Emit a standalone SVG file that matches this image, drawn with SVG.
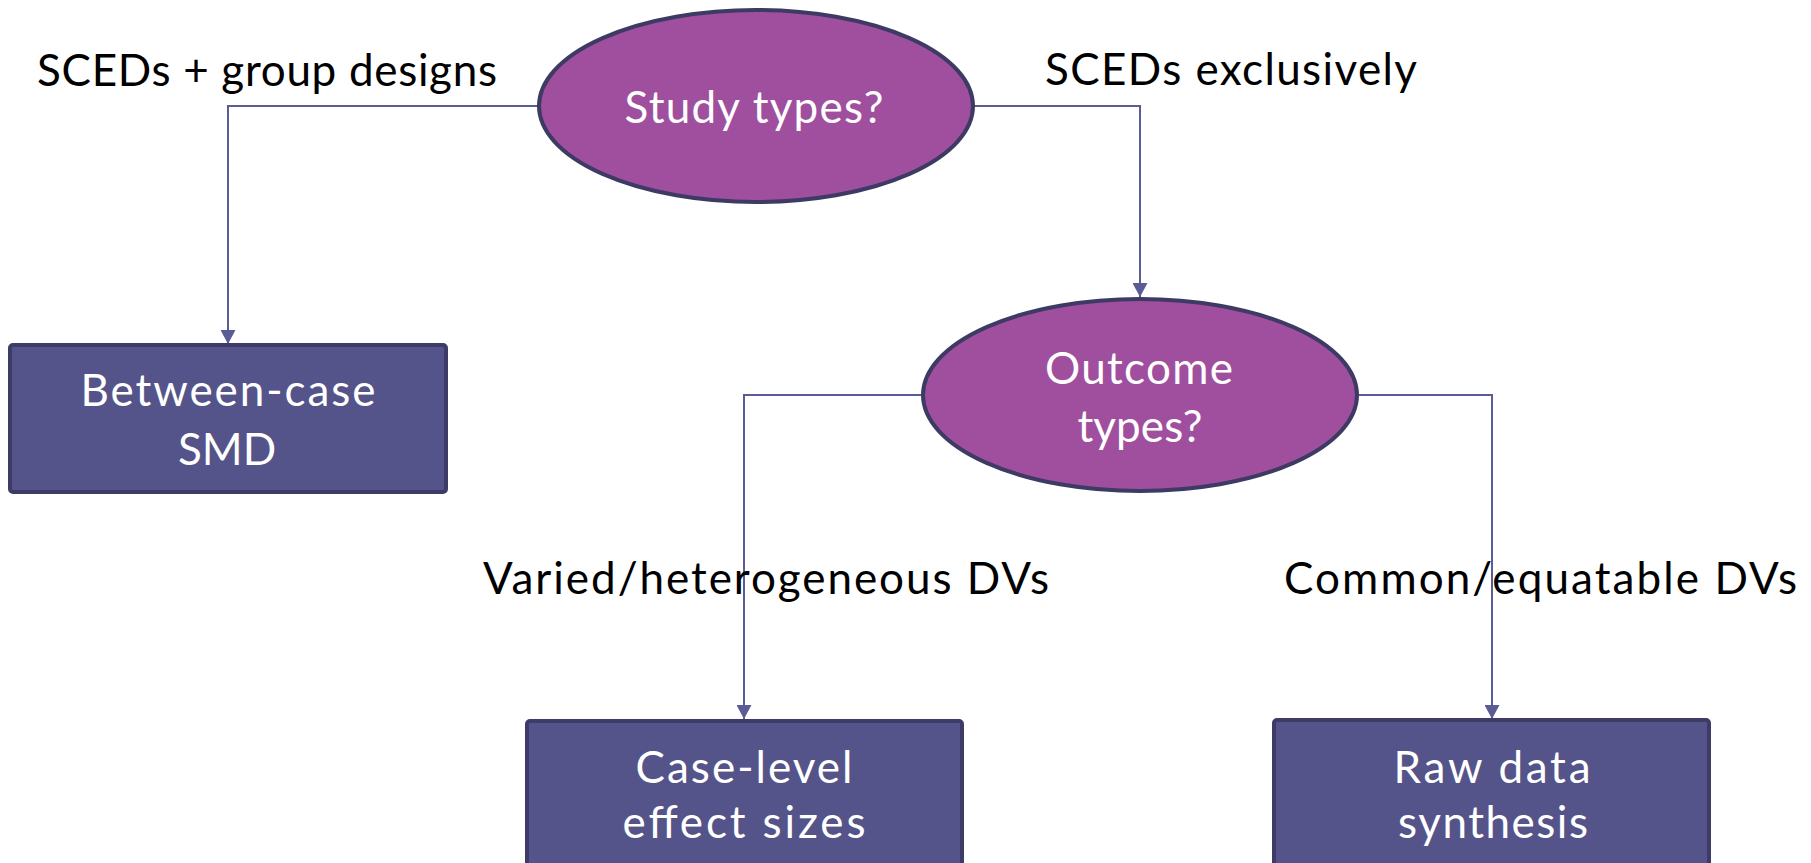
<svg xmlns="http://www.w3.org/2000/svg" width="1811" height="863" viewBox="0 0 1811 863">
<style>
  .dec { fill: #a04f9f; stroke: #3d3a64; stroke-width: 4; }
  .box { fill: #54548a; stroke: #3e3b66; stroke-width: 4; }
  .lbl { font-family: Lato, "Liberation Sans", sans-serif; font-size: 44px; fill: #ffffff; text-anchor: middle; }
  .edge { font-family: Lato, "Liberation Sans", sans-serif; font-size: 44px; fill: #000000; }
  .conn { fill: none; stroke: #5b5b96; stroke-width: 2; }
</style>
<defs>
  <marker id="arrow" markerUnits="userSpaceOnUse" markerWidth="15" markerHeight="15" refX="14" refY="7.5" orient="auto">
    <path d="M0,0 L14,7.5 L0,15 z" fill="#5b5b96"/>
  </marker>
</defs>
<rect width="1811" height="863" fill="#ffffff"/>
<g id="connectors">
  <path class="conn" d="M540,106 H228 V344" marker-end="url(#arrow)"/>
  <path class="conn" d="M972,106 H1140 V297" marker-end="url(#arrow)"/>
  <path class="conn" d="M923,395 H744 V719" marker-end="url(#arrow)"/>
  <path class="conn" d="M1357,395 H1492 V719" marker-end="url(#arrow)"/>
</g>
<g id="edge-labels">
  <text class="edge" x="37" y="86" textLength="460">SCEDs + group designs</text>
  <text class="edge" x="1045" y="85" textLength="372">SCEDs exclusively</text>
  <text class="edge" x="483" y="594" textLength="566">Varied/heterogeneous DVs</text>
  <text class="edge" x="1284" y="594" textLength="513">Common/equatable DVs</text>
</g>
<g id="study-types">
  <ellipse class="dec" cx="756" cy="106" rx="217" ry="96"/>
  <text class="lbl" x="754" y="123" textLength="259">Study types?</text>
</g>
<g id="outcome-types">
  <ellipse class="dec" cx="1140" cy="395" rx="217" ry="96"/>
  <text class="lbl" x="1139" y="384" textLength="188">Outcome</text>
  <text class="lbl" x="1140" y="442" textLength="125">types?</text>
</g>
<g id="between-case">
  <rect class="box" x="10" y="345" width="436" height="147" rx="3"/>
  <text class="lbl" x="228" y="406" textLength="295">Between-case</text>
  <text class="lbl" x="227" y="465">SMD</text>
</g>
<g id="case-level">
  <rect class="box" x="527" y="721" width="435" height="160" rx="3"/>
  <text class="lbl" x="744" y="783" textLength="217">Case-level</text>
  <text class="lbl" x="744" y="838" textLength="243">effect sizes</text>
</g>
<g id="raw-data">
  <rect class="box" x="1274" y="720" width="435" height="160" rx="3"/>
  <text class="lbl" x="1492" y="783" textLength="197">Raw data</text>
  <text class="lbl" x="1493" y="838" textLength="190">synthesis</text>
</g>
</svg>
